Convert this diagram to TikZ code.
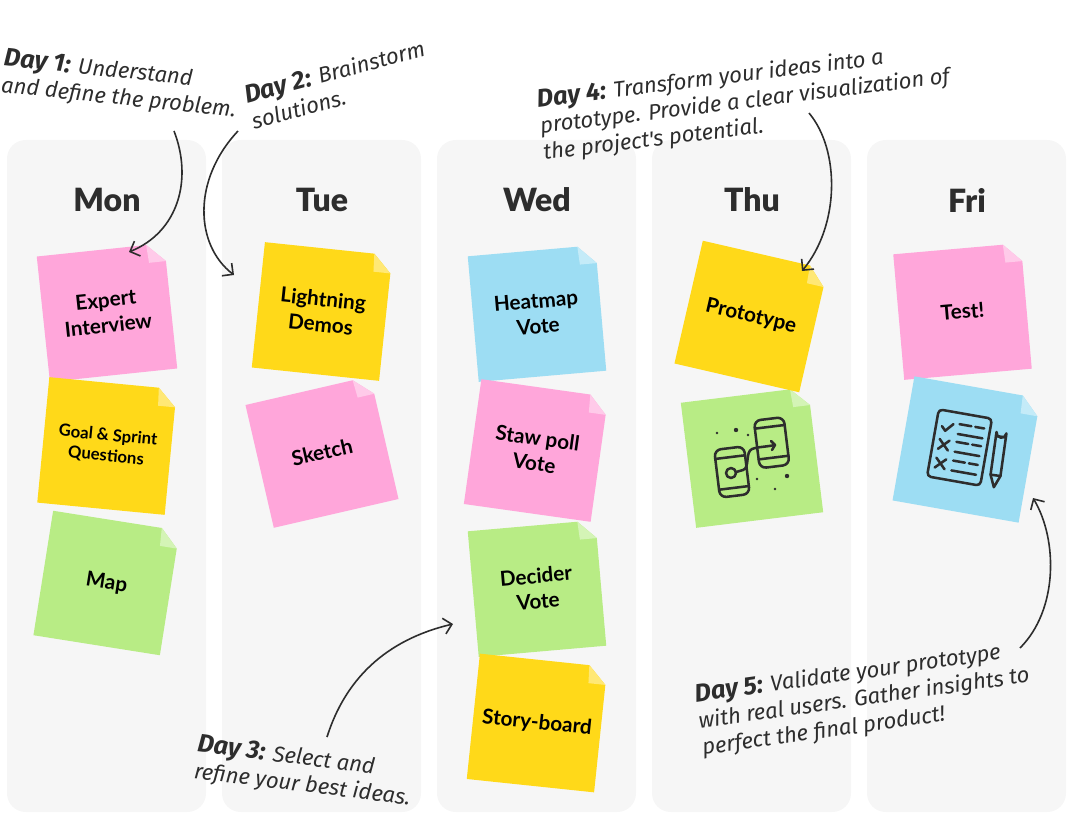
\documentclass[tikz,border=0pt]{standalone}
\usepackage{fontspec}
\setmainfont{Lato}
\newfontfamily\handfont{Fira Sans}
\newfontfamily\headfont{Lato Black}
\usetikzlibrary{arrows.meta}
\definecolor{colbg}{HTML}{F6F6F6}
\definecolor{notepink}{HTML}{FFA6DA}
\definecolor{noteyellow}{HTML}{FFD919}
\definecolor{noteblue}{HTML}{9DDDF3}
\definecolor{notegreen}{HTML}{B8EC85}
\definecolor{inkdark}{HTML}{2D2D2D}
\tikzset{
  daycol/.style={fill=colbg,rounded corners=14pt},
  dayname/.style={font=\headfont\fontsize{24}{24}\selectfont,text=inkdark},
  notetxt/.style={font=\fontsize{15.5}{19}\selectfont\bfseries,align=center,text=black,transform shape},
  smalltxt/.style={font=\fontsize{12.5}{15.5}\selectfont\bfseries},
  handtxt/.style={font=\handfont\itshape\fontsize{16.5}{20}\selectfont,align=left,text=inkdark},
  pointer/.style={line width=1.2pt,inkdark,-{Straight Barb[length=6pt,width=12pt]}},
  iconline/.style={line width=1.9pt,inkdark,line cap=round,line join=round},
}
% sheet of paper with folded corner
\newcommand{\notepaper}[3]{
  \begin{scope}[shift={(#1)},rotate=#2]
    \fill[#3] (-64,-63) -- (46,-63) -- (64,-45) -- (64,63) -- (-64,63) -- cycle;
    \fill[#3!60!white] (46,-63) -- (47,-45) -- (64,-45) -- cycle;
  \end{scope}
}
% sheet with a text on it
\newcommand{\sticky}[6][]{
  \notepaper{#2}{#3}{#4}
  \begin{scope}[shift={(#2)},rotate=#3]
    \node[notetxt,#1] (#6) at (0,0) {#5};
  \end{scope}
}
\newcommand{\dayhead}[1]{{\bfseries\fontsize{19}{20}\selectfont #1}}
\begin{document}
\begin{tikzpicture}[x=0.75pt,y=-0.75pt]
\useasboundingbox (0,0) rectangle (1067,813);

% columns
\fill[daycol] (7,140) rectangle (206,812);
\fill[daycol] (222,140) rectangle (421,812);
\fill[daycol] (437,140) rectangle (636,812);
\fill[daycol] (652,140) rectangle (851,812);
\fill[daycol] (867,140) rectangle (1066,812);
\node[dayname] (mon) at (107,200) {Mon};
\node[dayname] (tue) at (322,200) {Tue};
\node[dayname] (wed) at (537,200) {Wed};
\node[dayname] (thu) at (752,200) {Thu};
\node[dayname] (fri) at (967,200) {Fri};

% Mon notes
\sticky{107,312.5}{6}{notepink}{Expert\\Interview}{expert}
\sticky[smalltxt]{107,446}{-5.5}{noteyellow}{Goal \& Sprint\\Questions}{goal}
\sticky{106.5,583}{-9}{notegreen}{Map}{map}
% Tue notes
\sticky{322,311.5}{-6}{noteyellow}{Lightning\\Demos}{demos}
\sticky{322,452}{13}{notepink}{Sketch}{sketch}
% Wed notes
\sticky{537,313.5}{5}{noteblue}{Heatmap\\Vote}{heatmap}
\sticky{536,450.5}{-8}{notepink}{Staw poll\\Vote}{staw}
\sticky{537,588.5}{5}{notegreen}{Decider\\Vote}{decider}
\sticky{537,723}{-6}{noteyellow}{Story-board}{story}
% Thu notes
\notepaper{752,457.5}{7}{notegreen}
\sticky{751,316.5}{-13}{noteyellow}{Prototype}{proto}
% Fri notes
\sticky{962.5,311.5}{5}{notepink}{Test!}{test}
\notepaper{966.5,449.5}{-10}{noteblue}

% phones icon
\begin{scope}[shift={(732,472)},rotate=7]
  \draw[iconline,rounded corners=5pt] (-15,-24) rectangle (15,24);
  \draw[iconline] (-15,-15) -- (15,-15);
  \draw[iconline] (-15,16) -- (15,16);
\end{scope}
\begin{scope}[shift={(771.7,442.7)},rotate=7]
  \draw[iconline,rounded corners=5pt] (-15,-24) rectangle (15,24);
  \draw[iconline] (-15,-16) -- (15,-16);
  \draw[iconline] (-15,15) -- (15,15);
\end{scope}
\draw[iconline] (731,473) circle (5);
\draw[iconline] (736,472) -- (743,470) .. controls (750,468) and (745,452) .. (752,449) .. controls (756,447) and (765,447) .. (775,445);
\draw[iconline] (771,441) -- (775,445) -- (772,450);
\foreach \dx/\dy/\dr in {717/433/1.3,736/430/2.2,748/435/1.3,757/479/1.3,787/476/2.2,775/489/1.3}
  \fill[inkdark] (\dx,\dy) circle (\dr);

% checklist icon
\begin{scope}[shift={(959.5,447.5)},rotate=-10]
  \draw[iconline,rounded corners=3pt] (-27,-34) rectangle (27,34);
  \draw[iconline] (-21,-18) -- (-17,-14) -- (-10,-22);
  \draw[iconline] (-21,-5) -- (-11,5) (-21,5) -- (-11,-5);
  \draw[iconline] (-21,14) -- (-11,24) (-21,24) -- (-11,14);
  \foreach \rowy in {-18,0,19} {
    \draw[iconline] (-4,\rowy-5) -- (8,\rowy-5) (12,\rowy-5) -- (21,\rowy-5);
    \draw[iconline] (-4,\rowy+5) -- (21,\rowy+5);
  }
\end{scope}
\begin{scope}[shift={(998,457.5)},rotate=-8]
  \draw[iconline] (-5,18) -- (-5,-25) arc[start angle=180,end angle=0,radius=5] -- (5,18) -- (0,30) -- cycle;
  \draw[iconline] (-5,-21) -- (5,-21);
  \draw[iconline] (-5,18) -- (5,18);
\end{scope}

% captions
\node[handtxt,rotate=-6] (day1) at (120,85) {\dayhead{Day 1:} Understand\\and define the problem.};
\node[handtxt,rotate=15] (day2) at (338,84) {\dayhead{Day 2:} Brainstorm\\solutions.};
\node[handtxt,rotate=7] (day4) at (745,102) {\dayhead{Day 4:} Transform your ideas into a\\prototype. Provide a clear visualization of\\the project's potential.};
\node[handtxt,rotate=-7] (day3) at (304,772) {\dayhead{Day 3:} Select and\\refine your best ideas.};
\node[handtxt,rotate=8] (day5) at (864,699) {\dayhead{Day 5:} Validate your prototype\\with real users. Gather insights to\\perfect the final product!};

% arrows
\coordinate (a1) at (174,131);
\coordinate (a1e) at (129,252);
\coordinate (a2) at (238,131);
\coordinate (a2e) at (234,275);
\coordinate (a3) at (327,737);
\coordinate (a3e) at (453,624);
\coordinate (a4) at (809,113);
\coordinate (a4e) at (802,271);
\coordinate (a5) at (1020,648);
\coordinate (a5e) at (1033,498);
\draw[pointer] (a1) .. controls (193,180) and (178,232) .. (a1e);
\draw[pointer] (a2) .. controls (192,180) and (195,245) .. (a2e);
\draw[pointer] (a3) .. controls (345,680) and (385,640) .. (a3e);
\draw[pointer] (a4) .. controls (840,150) and (840,225) .. (a4e);
\draw[pointer] (a5) .. controls (1058,610) and (1058,540) .. (a5e);
\end{tikzpicture}
\end{document}
